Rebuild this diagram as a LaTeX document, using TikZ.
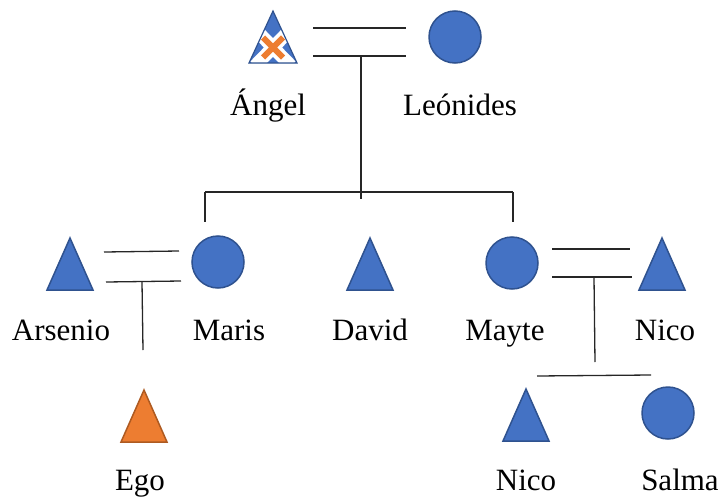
\documentclass[tikz,border=0pt]{standalone}
\usepackage{fontspec}
\setmainfont{Liberation Serif}
\definecolor{shapeblue}{HTML}{4472C4}
\definecolor{shapeblueedge}{HTML}{2F528F}
\definecolor{egoorange}{HTML}{ED7D31}
\definecolor{egoedge}{HTML}{AE5A21}
\begin{document}
\begin{tikzpicture}[x=1pt,y=-1pt,
  lbl/.style={font=\fontsize{31}{31}\selectfont, inner sep=0pt, anchor=base},
  person/.style={draw=shapeblueedge, fill=shapeblue, line width=1.5pt},
  egoperson/.style={draw=egoedge, fill=egoorange, line width=1.5pt},
  circ/.style={circle, person, minimum size=52pt, inner sep=0pt},
  kin/.style={draw=black!85, line width=1.3pt}]
\useasboundingbox (0,0) rectangle (718,498);

\tikzset{tri/.pic={\path[pic actions] (0,-26) -- (23,26) -- (-23,26) -- cycle;}}

% --- generation 1
\coordinate (angel) at (273,37);
\begin{scope}
  \clip (273,11) -- (297,63) -- (249,63) -- cycle;
  \fill[shapeblue] (273,11) -- (297,63) -- (249,63) -- cycle;
  \draw[white, line width=13pt] (255,29) -- (291,66) (291,29) -- (255,66);
  \draw[egoorange, line width=6pt] (263,37.5) -- (283,57.5) (283,37.5) -- (263,57.5);
\end{scope}
\draw[shapeblueedge, line width=1.2pt] (273,11) -- (297,63) -- (249,63) -- cycle;
\node[circ] (leonides) at (455,37) {};
\node[lbl] (angelL) at (268,115) {Ángel};
\node[lbl] (leonidesL) at (460,115) {Leónides};

\coordinate (m1a) at (313,28); \coordinate (m1b) at (406,28);
\coordinate (m1c) at (313,56); \coordinate (m1d) at (406,56);
\draw[kin] (m1a) -- (m1b);
\draw[kin] (m1c) -- (m1d);
\coordinate (m1drop) at (361,56);
\coordinate (m1end) at (361,199);
\draw[kin] (m1drop) -- (m1end);
\coordinate (s1l) at (205,192); \coordinate (s1r) at (513,192);
\draw[kin] (s1l) -- (s1r);
\coordinate (s1lend) at (205,222); \coordinate (s1rend) at (513,222);
\draw[kin] (s1l) -- (s1lend);
\draw[kin] (s1r) -- (s1rend);

% --- generation 2
\pic[person] (arsenio) at (70,264) {tri};
\node[circ] (maris) at (218,262) {};
\pic[person] (david) at (370,264) {tri};
\node[circ] (mayte) at (512,263) {};
\pic[person] (nico1) at (662,264) {tri};
\node[lbl] (arsenioL) at (61,340) {Arsenio};
\node[lbl] (marisL) at (229,340) {Maris};
\node[lbl] (davidL) at (370,340) {David};
\node[lbl] (mayteL) at (505,340) {Mayte};
\node[lbl] (nico1L) at (665,340) {Nico};

\coordinate (m2a) at (104,252); \coordinate (m2b) at (179,251);
\coordinate (m2c) at (106,282); \coordinate (m2d) at (181,281);
\draw[kin] (m2a) -- (m2b);
\draw[kin] (m2c) -- (m2d);
\coordinate (m2drop) at (142,282); \coordinate (m2end) at (143,350);
\draw[kin] (m2drop) -- (m2end);

\coordinate (m3a) at (552,249); \coordinate (m3b) at (630,249);
\coordinate (m3c) at (552,277); \coordinate (m3d) at (632,277);
\draw[kin] (m3a) -- (m3b);
\draw[kin] (m3c) -- (m3d);
\coordinate (m3drop) at (594,277); \coordinate (m3end) at (595,362);
\draw[kin] (m3drop) -- (m3end);
\coordinate (s3l) at (537,376); \coordinate (s3r) at (651,375);
\draw[kin] (s3l) -- (s3r);

% --- generation 3
\pic[egoperson] (ego) at (144,416) {tri};
\node[lbl] (egoL) at (140,490) {Ego};
\pic[person] (nico2) at (526,415) {tri};
\node[circ] (salma) at (668,413) {};
\node[lbl] (nico2L) at (526,490) {Nico};
\node[lbl] (salmaL) at (680,490) {Salma};
\end{tikzpicture}
\end{document}
